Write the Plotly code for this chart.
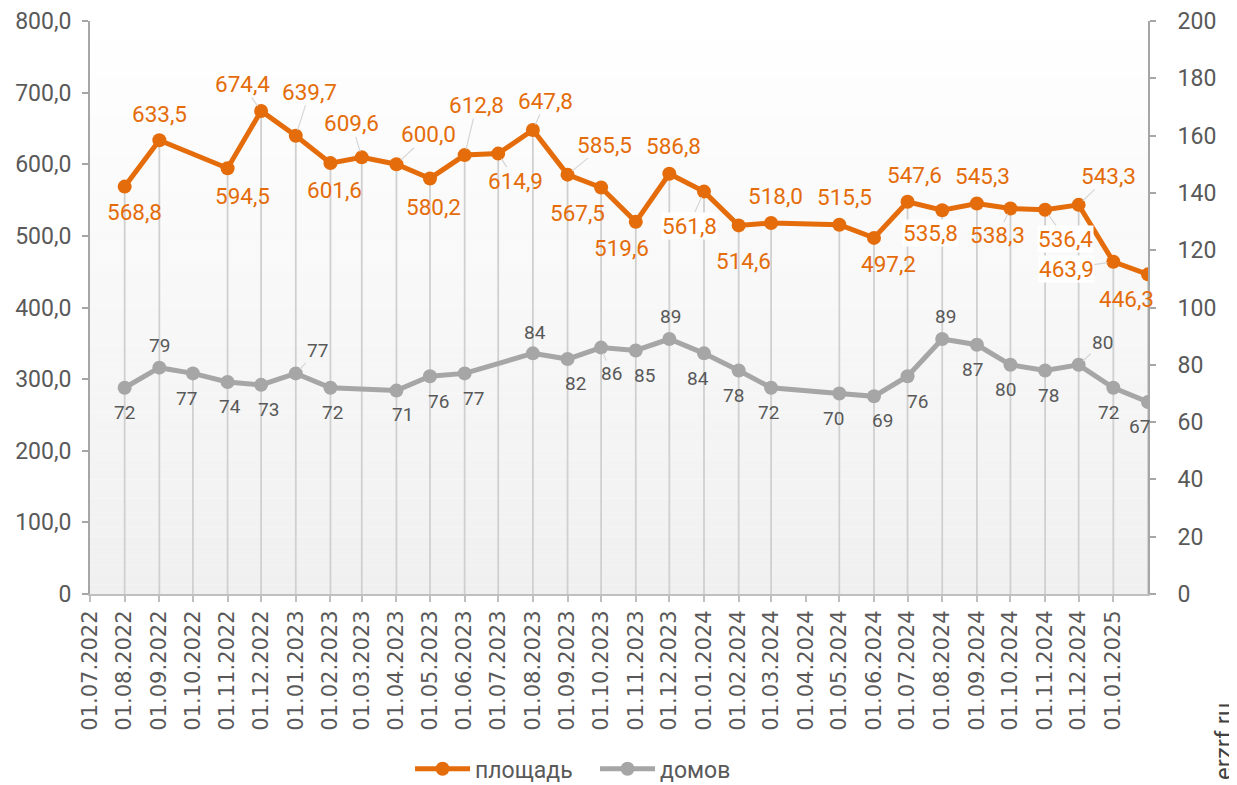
import plotly.graph_objects as go

# ---------------- data ----------------
dates = ["2022-08-01", "2022-09-01", "2022-10-01", "2022-11-01", "2022-12-01",
         "2023-01-01", "2023-02-01", "2023-03-01", "2023-04-01", "2023-05-01",
         "2023-06-01", "2023-07-01", "2023-08-01", "2023-09-01", "2023-10-01",
         "2023-11-01", "2023-12-01", "2024-01-01", "2024-02-01", "2024-03-01",
         "2024-05-01", "2024-06-01", "2024-07-01", "2024-08-01", "2024-09-01",
         "2024-10-01", "2024-11-01", "2024-12-01", "2025-01-01", "2025-02-01"]

area = [568.8, 633.5, None, 594.5, 674.4, 639.7, 601.6, 609.6, 600.0, 580.2,
        612.8, 614.9, 647.8, 585.5, 567.5, 519.6, 586.8, 561.8, 514.6, 518.0,
        515.5, 497.2, 547.6, 535.8, 545.3, 538.3, 536.4, 543.3, 463.9, 446.3]

houses = [72, 79, 77, 74, 73, 77, 72, None, 71, 76,
          77, None, 84, 82, 86, 85, 89, 84, 78, 72,
          70, 69, 76, 89, 87, 80, 78, 80, 72, 67]

tick_dates = ["2022-07-01", "2022-08-01", "2022-09-01", "2022-10-01", "2022-11-01",
              "2022-12-01", "2023-01-01", "2023-02-01", "2023-03-01", "2023-04-01",
              "2023-05-01", "2023-06-01", "2023-07-01", "2023-08-01", "2023-09-01",
              "2023-10-01", "2023-11-01", "2023-12-01", "2024-01-01", "2024-02-01",
              "2024-03-01", "2024-04-01", "2024-05-01", "2024-06-01", "2024-07-01",
              "2024-08-01", "2024-09-01", "2024-10-01", "2024-11-01", "2024-12-01",
              "2025-01-01"]
tick_text = ["01.07.2022", "01.08.2022", "01.09.2022", "01.10.2022", "01.11.2022",
             "01.12.2022", "01.01.2023", "01.02.2023", "01.03.2023", "01.04.2023",
             "01.05.2023", "01.06.2023", "01.07.2023", "01.08.2023", "01.09.2023",
             "01.10.2023", "01.11.2023", "01.12.2023", "01.01.2024", "01.02.2024",
             "01.03.2024", "01.04.2024", "01.05.2024", "01.06.2024", "01.07.2024",
             "01.08.2024", "01.09.2024", "01.10.2024", "01.11.2024", "01.12.2024",
             "01.01.2025"]

y1_ticks = [0, 100, 200, 300, 400, 500, 600, 700, 800]
y1_tick_text = ["0", "100,0", "200,0", "300,0", "400,0", "500,0", "600,0", "700,0", "800,0"]

series_names = ["площадь", "домов"]

# ---------------- label placement (pixel offsets, leader line flag, white box) ----------------
area_lbl = [(10, 25, 0, 0), (0, -26, 0, 0), None, (15, 28, 0, 0), (-19, -27, 1, 0),
            (14, -44, 1, 0), (4, 27, 0, 0), (-10, -34, 1, 0), (32, -30, 1, 0), (4, 29, 0, 0),
            (12, -50, 1, 0), (17, 27, 1, 0), (13, -29, 1, 0), (37, -30, 1, 0), (-24, 25, 0, 0),
            (-14, 26, 0, 0), (4, -28, 0, 0), (-15, 34, 1, 1), (5, 36, 0, 0), (4, -27, 0, 0),
            (5, -28, 0, 0), (15, 26, 0, 0), (7, -27, 0, 0), (-12, 23, 0, 1), (6, -27, 0, 0),
            (-13, 27, 1, 0), (20, 29, 1, 1), (30, -29, 1, 0), (-47, 7, 1, 1), (-22, 25, 0, 0)]

houses_lbl = [(0, 25, 0), (0, -22, 0), (-6, 25, 0), (2, 25, 0), (7, 25, 0),
              (22, -23, 1), (2, 25, 0), None, (6, 24, 0), (9, 25, 0),
              (9, 25, 0), None, (2, -21, 0), (8, 24, 0), (10, 26, 1),
              (9, 25, 0), (1, -23, 0), (-6, 25, 0), (-5, 25, 0), (-3, 25, 0),
              (-6, 25, 0), (9, 24, 0), (10, 25, 0), (3, -23, 0), (-4, 25, 0),
              (-5, 25, 0), (3, 25, 0), (24, -22, 1), (-5, 25, 0), (-9, 24, 0)]

# ---------------- styles ----------------
ORANGE = "#E46C0A"
GREY = "#A6A6A6"
TEXT = "#595959"
Y1_MAX, Y2_MAX = 800, 200
ratio = Y1_MAX / Y2_MAX

fig = go.Figure()

# drop lines from the highest point of each date down to the axis
dx, dy = [], []
for d, a, h in zip(dates, area, houses):
    top = max(a if a is not None else 0, (h * ratio) if h is not None else 0)
    dx += [d, d, None]
    dy += [0, top, None]
fig.add_trace(go.Scatter(x=dx, y=dy, mode="lines", line=dict(color="#d0d0d0", width=1.8),
                         showlegend=False, hoverinfo="skip"))

fig.add_trace(go.Scatter(x=dates, y=area, name=series_names[0], mode="lines+markers",
                         connectgaps=True, line=dict(color=ORANGE, width=5),
                         marker=dict(color=ORANGE, size=14), yaxis="y"))
fig.add_trace(go.Scatter(x=dates, y=houses, name=series_names[1], mode="lines+markers",
                         connectgaps=True, line=dict(color=GREY, width=5),
                         marker=dict(color=GREY, size=14), yaxis="y2"))

annotations = []
for d, v, lab in zip(dates, area, area_lbl):
    if v is None:
        continue
    ox, oy, lead, bg = lab
    annotations.append(dict(
        x=d, y=v, xref="x", yref="y", text=f"{v:.1f}".replace(".", ","),
        showarrow=True, ax=ox, ay=oy, arrowhead=0, arrowwidth=1.2, standoff=6,
        arrowcolor="#d6d6d6" if lead else "rgba(0,0,0,0)",
        bgcolor="white" if bg else "rgba(0,0,0,0)", borderpad=0,
        font=dict(family="Roboto", size=22.5, color=ORANGE)))
for d, v, lab in zip(dates, houses, houses_lbl):
    if v is None:
        continue
    ox, oy, lead = lab
    annotations.append(dict(
        x=d, y=v, xref="x", yref="y2", text=str(v),
        showarrow=True, ax=ox, ay=oy, arrowhead=0, arrowwidth=1.2, standoff=6,
        arrowcolor="#d6d6d6" if lead else "rgba(0,0,0,0)",
        font=dict(family="Roboto", size=19, color=TEXT)))

annotations.append(dict(x=1.0718, y=-0.2565, xref="paper", yref="paper", text="erzrf.ru",
                        xanchor="center", yanchor="middle",
                        showarrow=False, textangle=-90,
                        font=dict(family="Roboto", size=24, color="#404040")))

# gradient background of the plot area
shapes = []
N = 60
for i in range(N):
    t = (i + 0.5) / N  # 0 at bottom, 1 at top
    c = int(round(240 + 15 * t))
    shapes.append(dict(type="rect", xref="paper", yref="paper", x0=0, x1=1,
                       y0=i / N, y1=(i + 1) / N, line=dict(width=0),
                       fillcolor=f"rgb({c},{c},{c})", layer="below"))

fig.update_layout(
    width=1229, height=800, autosize=False,
    margin=dict(l=82, r=89, t=13, b=214),
    paper_bgcolor="white", plot_bgcolor="white",
    separators=", ",
    showlegend=True,
    legend=dict(orientation="h", x=0.3025, xanchor="left", y=-0.305, yanchor="middle",
                entrywidth=115, entrywidthmode="pixels",
                font=dict(family="Roboto", size=23, color=TEXT), itemwidth=55,
                bgcolor="rgba(0,0,0,0)"),
    annotations=annotations,
    shapes=shapes,
    xaxis=dict(type="date", range=["2022-07-01", "2025-02-01"],
               tickmode="array", tickvals=tick_dates, ticktext=tick_text, tickangle=-90,
               ticks="outside", ticklen=6, tickcolor="#bfbfbf", tickwidth=1.5,
               showline=True, linecolor="#bfbfbf", linewidth=2,
               showgrid=False, zeroline=False, automargin=False,
               tickfont=dict(family="DejaVu Sans", size=21, color=TEXT)),
    yaxis=dict(range=[0, Y1_MAX], tickmode="array", tickvals=y1_ticks, ticktext=y1_tick_text,
               ticks="outside", ticklen=6, tickcolor="#a6a6a6", tickwidth=1.5,
               showline=True, linecolor="#a6a6a6", linewidth=2,
               showgrid=False, zeroline=False, automargin=False,
               ticklabelstandoff=6,
               tickfont=dict(family="Roboto", size=23, color=TEXT)),
    yaxis2=dict(range=[0, Y2_MAX], dtick=20, tickformat="d", overlaying="y", side="right",
                ticks="outside", ticklen=6, tickcolor="#a6a6a6", tickwidth=1.5,
                showline=True, linecolor="#a6a6a6", linewidth=2,
                showgrid=False, zeroline=False, automargin=False,
                ticklabelstandoff=17,
                tickfont=dict(family="Roboto", size=23, color=TEXT)),
)

fig.write_html("out.html")
